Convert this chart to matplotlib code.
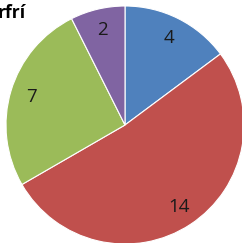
import matplotlib
matplotlib.use("Agg")
import matplotlib.pyplot as plt

values = [4, 14, 7, 2]
labels = ["4", "14", "7", "2"]
colors = ["#4F81BD", "#C0504D", "#9BBB59", "#8064A2"]
title = "rfrí"

fig = plt.figure(figsize=(2.42, 2.43), dpi=100)
ax = fig.add_axes([6 / 242, -1 / 243, 238 / 242, 238 / 243])

wedges, texts = ax.pie(values, labels=labels, colors=colors, startangle=90,
                       counterclock=False, labeldistance=0.82,
                       wedgeprops=dict(edgecolor="white", linewidth=0.8))
for t in texts:
    t.set_fontsize(13.5)
    t.set_family(["Open Sans", "DejaVu Sans"])
    t.set_color("#1a1a1a")
    t.set_ha("center")
    t.set_va("center")
ax.set_aspect("equal")
ax.set_xlim(-1, 1)
ax.set_ylim(-1, 1)

fig.text(-0.01, 0.945, title, fontsize=12.5, fontweight="bold",
         family=["Open Sans", "DejaVu Sans"], ha="left", va="center")

fig.savefig("out.png", dpi=100, facecolor="white")
